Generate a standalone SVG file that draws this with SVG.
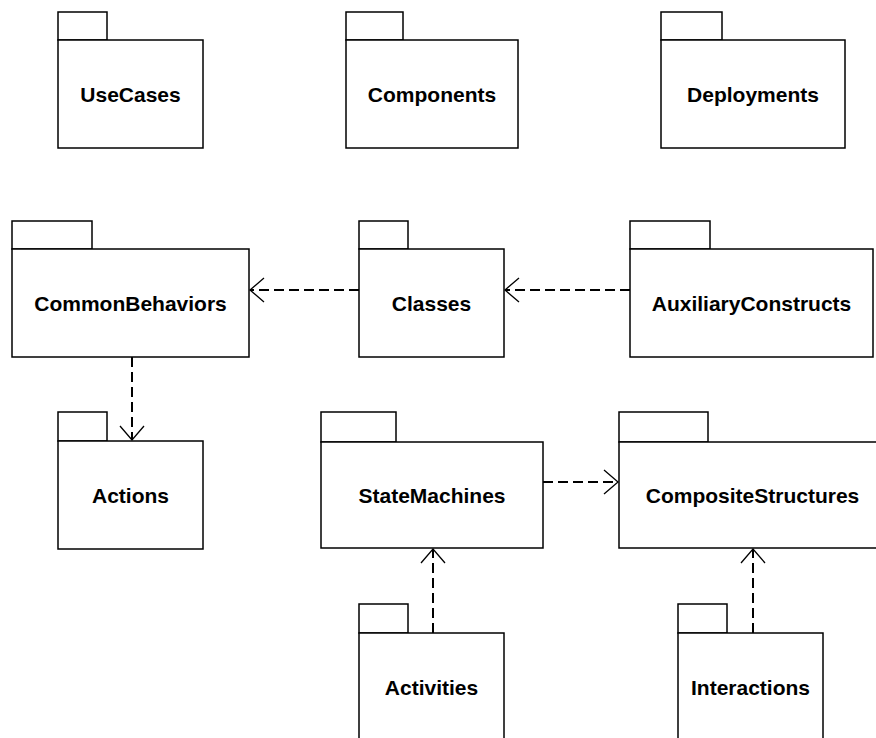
<svg xmlns="http://www.w3.org/2000/svg" width="876" height="738" viewBox="0 0 876 738">
  <style>
    .pkg rect { fill: #ffffff; stroke: #000000; stroke-width: 1.5; }
    .pkg text { font-family: "Liberation Sans", Arial, sans-serif; font-size: 21px; font-weight: bold; text-anchor: middle; fill: #000000; }
    .dep { fill: none; stroke: #000000; stroke-width: 2; stroke-dasharray: 10 5; marker-end: url(#open); }
  </style>
  <defs>
    <marker id="open" markerUnits="userSpaceOnUse" viewBox="-16 -15 20 30" markerWidth="20" markerHeight="30" refX="0" refY="0" orient="auto">
      <path d="M -14 -12 L 0 0 L -14 12" fill="none" stroke="#000000" stroke-width="1.3" stroke-dasharray="none"/>
    </marker>
  </defs>

  <rect width="876" height="738" fill="#ffffff"/>

  <!-- top row -->
  <g id="UseCases" class="pkg">
    <rect x="58" y="12" width="49" height="28"/>
    <rect x="58" y="40" width="145" height="108"/>
    <text x="130.5" y="102">UseCases</text>
  </g>
  <g id="Components" class="pkg">
    <rect x="346" y="12" width="57" height="28"/>
    <rect x="346" y="40" width="172" height="108"/>
    <text x="432" y="102">Components</text>
  </g>
  <g id="Deployments" class="pkg">
    <rect x="661" y="12" width="61" height="28"/>
    <rect x="661" y="40" width="184" height="108"/>
    <text x="753" y="102">Deployments</text>
  </g>

  <!-- middle row -->
  <g id="CommonBehaviors" class="pkg">
    <rect x="12" y="221" width="80" height="28"/>
    <rect x="12" y="249" width="237" height="108"/>
    <text x="130.5" y="311">CommonBehaviors</text>
  </g>
  <g id="Classes" class="pkg">
    <rect x="359" y="221" width="49" height="28"/>
    <rect x="359" y="249" width="145" height="108"/>
    <text x="431.5" y="311">Classes</text>
  </g>
  <g id="AuxiliaryConstructs" class="pkg">
    <rect x="630" y="221" width="80" height="28"/>
    <rect x="630" y="249" width="243" height="108"/>
    <text x="751.5" y="311">AuxiliaryConstructs</text>
  </g>

  <!-- third row -->
  <g id="Actions" class="pkg">
    <rect x="58" y="412" width="49" height="29"/>
    <rect x="58" y="441" width="145" height="108"/>
    <text x="130.5" y="503">Actions</text>
  </g>
  <g id="StateMachines" class="pkg">
    <rect x="321" y="412" width="75" height="30"/>
    <rect x="321" y="442" width="222" height="106"/>
    <text x="432" y="503">StateMachines</text>
  </g>
  <g id="CompositeStructures" class="pkg">
    <rect x="619" y="412" width="89" height="30"/>
    <rect x="619" y="442" width="267" height="106"/>
    <text x="752.5" y="503">CompositeStructures</text>
  </g>

  <!-- bottom row -->
  <g id="Activities" class="pkg">
    <rect x="359" y="604" width="49" height="29"/>
    <rect x="359" y="633" width="145" height="108"/>
    <text x="431.5" y="695">Activities</text>
  </g>
  <g id="Interactions" class="pkg">
    <rect x="678" y="604" width="49" height="29"/>
    <rect x="678" y="633" width="145" height="108"/>
    <text x="750.5" y="695">Interactions</text>
  </g>

  <!-- dependencies -->
  <g id="connectors">
    <line class="dep" x1="359" y1="290" x2="250" y2="290"/>
    <line class="dep" x1="630" y1="290" x2="505" y2="290"/>
    <line class="dep" x1="132" y1="357" x2="132" y2="440"/>
    <line class="dep" x1="543" y1="482" x2="618" y2="482"/>
    <line class="dep" x1="433" y1="633" x2="433" y2="549"/>
    <line class="dep" x1="753" y1="633" x2="753" y2="549"/>
  </g>
</svg>
